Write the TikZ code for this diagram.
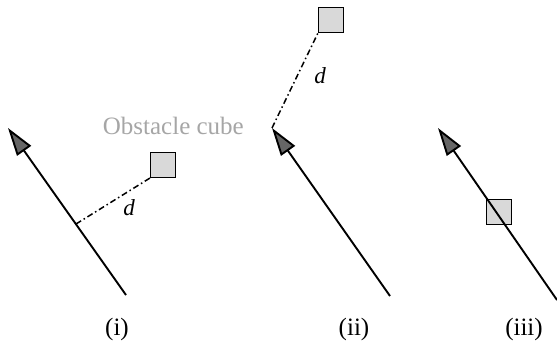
\documentclass[tikz,border=0pt]{standalone}
\usepackage{fontspec}
\setmainfont{Liberation Serif}
\usetikzlibrary{arrows.meta}
\begin{document}
\begin{tikzpicture}[x=1pt,y=-1pt,
  traj/.style={line width=1.9pt,-{Triangle[length=28pt,width=17pt,fill=black!60]}},
  cube/.style={draw=black,line width=1.1pt,fill=black!15,minimum size=25pt,inner sep=0pt},
  dist/.style={line width=1.5pt,dash pattern=on 6pt off 3pt on 1.5pt off 3pt},
  lbl/.style={font=\fontsize{25}{29}\selectfont,inner sep=0pt},
  dlbl/.style={font=\fontsize{23}{27}\selectfont\itshape,inner sep=0pt},
]
\useasboundingbox (0,0) rectangle (557,345);
% panel (i)
\coordinate (t1) at (126,295);
\coordinate (h1) at (8,128);
\coordinate (f1) at (76,224);
\node[cube] (c1) at (163,165) {};
\draw[traj] (t1) -- (h1);
\draw[dist] (f1) -- (c1.south west);
\node[dlbl] (d1) at (129,208) {d};
\node[lbl] (l1) at (117,329) {(i)};
% panel (ii)
\coordinate (t2) at (390,296);
\coordinate (h2) at (272,128);
\node[cube] (c2) at (331,20) {};
\draw[traj] (t2) -- (h2);
\draw[dist] (h2) -- (c2.south west);
\node[dlbl] (d2) at (320,76) {d};
\node[lbl,text=black!35,anchor=base east] (ob) at (244,134) {Obstacle cube};
\node[lbl] (l2) at (354,329) {(ii)};
% panel (iii)
\coordinate (t3) at (557,300);
\coordinate (h3) at (438,128);
\node[cube] (c3) at (499,212) {};
\draw[traj] (t3) -- (h3);
\node[lbl] (l3) at (524,329) {(iii)};
\end{tikzpicture}
\end{document}
